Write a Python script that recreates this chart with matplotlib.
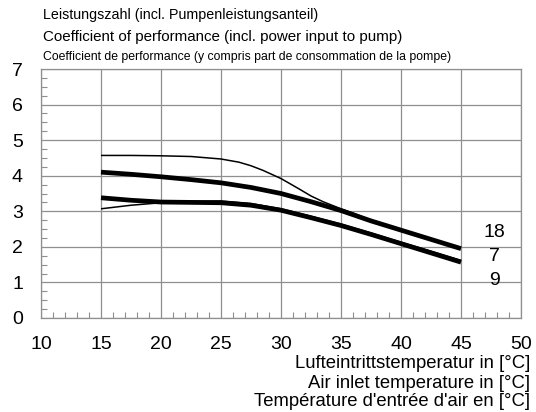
import matplotlib
matplotlib.use('Agg')
import matplotlib.pyplot as plt
from matplotlib.ticker import MultipleLocator

plt.rcParams['font.family'] = ['Liberation Sans', 'DejaVu Sans']

# Lufteintrittstemperatur [°C]
t = [15, 17.5, 20, 22.5, 25, 26.5, 27.5, 28.5, 30, 31.5, 32.5, 33.5, 35, 36, 37.5, 40, 42.5, 45]
t_std = [15, 17.5, 20, 22.5, 25, 27.5, 30, 32.5, 35, 37.5, 40, 42.5, 45]

# Leistungszahl
cop_thin_top = [4.57, 4.57, 4.56, 4.54, 4.47, 4.38, 4.28, 4.15, 3.92, 3.63, 3.43, 3.27, 3.07, 2.95, 2.75, 2.46, 2.20, 1.97]
cop_18 = [4.10, 4.04, 3.97, 3.89, 3.80, 3.67, 3.50, 3.27, 3.02, 2.73, 2.47, 2.21, 1.95]
cop_7 = [3.38, 3.31, 3.26, 3.25, 3.24, 3.17, 3.03, 2.82, 2.60, 2.35, 2.09, 1.83, 1.57]
cop_thin_low = [3.07, 3.17, 3.24, 3.28, 3.29, 3.22, 3.07, 2.86, 2.64, 2.39, 2.13, 1.88, 1.62]

curve_labels = ['18', '7', '9']
curve_label_y = [2.40, 1.72, 1.05]

fig = plt.figure(figsize=(5.36, 4.12), dpi=100)
ax = fig.add_axes([41 / 536, 1 - 318 / 412, 480 / 536, 249 / 412])

ax.plot(t, cop_thin_top, color='black', lw=1.1, solid_capstyle='butt')
ax.plot(t_std, cop_thin_low, color='black', lw=1.1, solid_capstyle='butt')
ax.plot(t_std, cop_18, color='black', lw=3.4, solid_capstyle='butt')
ax.plot(t_std, cop_7, color='black', lw=3.4, solid_capstyle='butt')

for lab, yy in zip(curve_labels, curve_label_y):
    ax.text(47.8, yy, lab, ha='center', va='center', fontsize=14)

ax.set_xlim(10, 50)
ax.set_ylim(0, 7)
ax.xaxis.set_major_locator(MultipleLocator(5))
ax.yaxis.set_major_locator(MultipleLocator(1))
ax.xaxis.set_minor_locator(MultipleLocator(1))
ax.yaxis.set_minor_locator(MultipleLocator(0.25))
ax.grid(True, which='major', color='#8f8f8f', lw=0.9)
ax.set_axisbelow(True)
ax.tick_params(which='major', length=0, labelsize=14, pad=13)
ax.tick_params(which='minor', direction='in', length=4, color='#8f8f8f', width=0.8)
for s in ax.spines.values():
    s.set_color('#8f8f8f')
    s.set_linewidth(0.9)

# Titel oben links
fig.text(43 / 536, 1 - 15 / 412, 'Leistungszahl (incl. Pumpenleistungsanteil)', fontsize=10.3, va='center', ha='left')
fig.text(43 / 536, 1 - 37 / 412, 'Coefficient of performance (incl. power input to pump)', fontsize=10.9, va='center', ha='left')
fig.text(43 / 536, 1 - 57 / 412, 'Coefficient de performance (y compris part de consommation de la pompe)',
         fontsize=8.8, va='center', ha='left')

# Achsenbeschriftung unten rechts
fig.text(530 / 536, 1 - 364 / 412, 'Lufteintrittstemperatur in [°C]', fontsize=13.3, va='center', ha='right')
fig.text(530 / 536, 1 - 383 / 412, 'Air inlet temperature in [°C]', fontsize=13.3, va='center', ha='right')
fig.text(530 / 536, 1 - 402 / 412, "Température d'entrée d'air en [°C]", fontsize=13.3, va='center', ha='right')

fig.savefig('out.png', dpi=100, facecolor='white')
